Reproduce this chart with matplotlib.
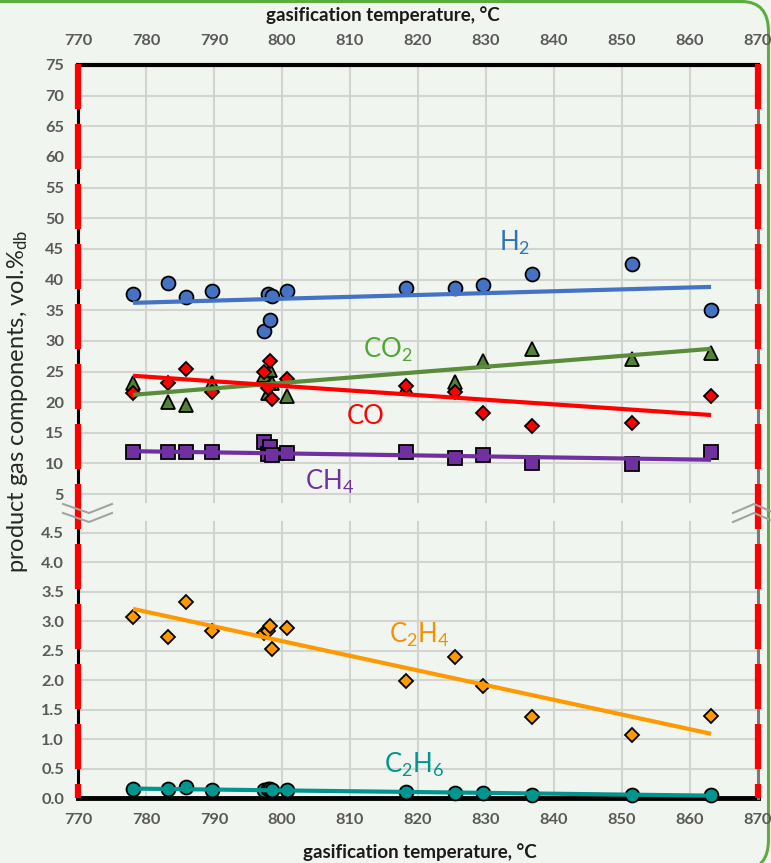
import numpy as np
import matplotlib
matplotlib.use("Agg")
import matplotlib.pyplot as plt
from matplotlib.lines import Line2D
from matplotlib.patches import FancyBboxPatch

plt.rcParams['font.family'] = ['Lato', 'DejaVu Sans']
plt.rcParams['mathtext.default'] = 'regular'

# gasification temperature of each run, degC
temp = [778.1, 783.2, 785.9, 789.7, 797.3, 798.0, 798.3, 798.6, 800.8,
        818.3, 825.5, 829.5, 836.8, 851.4, 863.1]

# product gas components, vol.% db
h2 = [37.6, 39.4, 37.2, 38.1, 31.6, 37.6, 33.4, 37.3, 38.1, 38.6, 38.6, 39.1, 40.9, 42.5, 35.0]
co2 = [23.1, 20.0, 19.5, 23.1, 24.4, 21.5, 25.2, 23.1, 21.0, 22.3, 23.3, 26.7, 28.7, 27.0, 28.0]
co = [21.5, 23.1, 25.4, 21.7, 24.9, 22.3, 26.7, 20.5, 23.7, 22.6, 21.6, 18.2, 16.1, 16.6, 21.0]
ch4 = [11.9, 11.9, 11.9, 11.9, 13.5, 11.6, 12.7, 11.4, 11.7, 11.9, 10.9, 11.4, 10.1, 9.9, 11.9]
c2h4 = [3.07, 2.73, 3.33, 2.84, 2.80, 2.84, 2.92, 2.53, 2.89, 1.99, 2.39, 1.90, 1.38, 1.07, 1.39]
c2h6 = [0.15, 0.15, 0.19, 0.14, 0.14, 0.15, 0.15, 0.13, 0.13, 0.10, 0.09, 0.09, 0.05, 0.05, 0.055]

# linear trend lines (start / end value at first and last temperature)
trend_t = [778.1, 863.1]
h2_trend = [36.2, 38.8]
co2_trend = [21.2, 28.7]
co_trend = [24.3, 17.9]
ch4_trend = [12.0, 10.6]
c2h4_trend = [3.21, 1.09]
c2h6_trend = [0.16, 0.04]

x_ticks = list(range(770, 871, 10))
y_ticks_top = list(range(5, 76, 5))
y_ticks_bot = [0.0, 0.5, 1.0, 1.5, 2.0, 2.5, 3.0, 3.5, 4.0, 4.5]

W, H = 771, 863
bg = '#f1f5ef'
tick_col = '#595959'

fig = plt.figure(figsize=(W / 100, H / 100), dpi=100, facecolor=bg)

left_px, right_px = 78, 758
top_px, bot_px = 65, 798
top_scale = 6.13     # px per unit, upper panel
bot_scale = 58.9     # px per unit, lower panel
top_ylim = (3.5, 75)
bot_ylim = (0, 4.7)
ax1_bottom = top_px + (top_ylim[1] - top_ylim[0]) * top_scale
ax2_top = bot_px - (bot_ylim[1] - bot_ylim[0]) * bot_scale


def fig_rect(x0, y0, x1, y1):
    return [x0 / W, 1 - y1 / H, (x1 - x0) / W, (y1 - y0) / H]


ax1 = fig.add_axes(fig_rect(left_px, top_px, right_px, ax1_bottom))
ax2 = fig.add_axes(fig_rect(left_px, ax2_top, right_px, bot_px))

for ax in (ax1, ax2):
    ax.set_facecolor(bg)
    ax.set_xlim(770, 870)
    ax.set_xticks(x_ticks)
    ax.grid(True, color='#d2d4d0', lw=1.5)
    ax.set_axisbelow(True)
    ax.tick_params(length=0, labelsize=11.8, labelcolor=tick_col)
    for s in ax.spines.values():
        s.set_visible(False)

ax1.set_ylim(*top_ylim)
ax1.set_yticks(y_ticks_top)
ax1.xaxis.tick_top()
ax1.tick_params(axis='x', pad=12)
ax1.tick_params(axis='y', pad=10)
ax1.spines['top'].set_visible(True)
ax1.spines['top'].set_linewidth(3)
ax1.spines['top'].set_color('black')

ax2.set_ylim(*bot_ylim)
ax2.set_yticks(y_ticks_bot)
ax2.set_yticklabels(['%.1f' % v for v in y_ticks_bot])
ax2.tick_params(axis='x', pad=11)
ax2.tick_params(axis='y', pad=10)
ax2.spines['bottom'].set_visible(True)
ax2.spines['bottom'].set_linewidth(3.5)
ax2.spines['bottom'].set_color('black')
for lab in ax2.get_xticklabels() + ax2.get_yticklabels() + ax1.get_xticklabels() + ax1.get_yticklabels():
    lab.set_fontweight('bold')

# x axis titles (top one sits left of centre in the original)
fig.text(383 / W, 1 - 15 / H, 'gasification temperature, °C', fontsize=13.5,
         fontweight='bold', ha='center', va='center', color='#1a1a1a')
fig.text(420 / W, 1 - 852 / H, 'gasification temperature, °C', fontsize=13.5,
         fontweight='bold', ha='center', va='center', color='#1a1a1a')

# series: values, trend, marker, fill, line colour, label colour, label pos
upper = [
    (h2, h2_trend, 'o', '#4472c4', '#4472c4', '#2e75b6', r'$H_2$', (834.2, 46.0)),
    (co2, co2_trend, '^', '#548235', '#5b8c3a', '#4ea72e', r'$CO_2$', (815.5, 28.5)),
    (co, co_trend, 'D', '#ff0000', '#ff0000', '#ff0000', 'CO', (812.3, 17.7)),
    (ch4, ch4_trend, 's', '#7030a0', '#7030a0', '#7030a0', r'$CH_4$', (807.0, 7.0)),
]
lower = [
    (c2h4, c2h4_trend, 'D', '#ff9900', '#ff9900', '#f39200', r'$C_2H_4$', (820.2, 2.77)),
    (c2h6, c2h6_trend, 'o', '#00968f', '#00968f', '#00968f', r'$C_2H_6$', (819.5, 0.56)),
]
msize = {'o': 10, '^': 10.5, 'D': 7.5, 's': 9.5}

for ax, group in ((ax1, upper), (ax2, lower)):
    for vals, tr, mk, fill, lc, tc, name, pos in group:
        ax.plot(temp, vals, ls='none', marker=mk, ms=msize[mk], mfc=fill,
                mec='black', mew=1.3, zorder=3, clip_on=False)
        ax.plot(trend_t, tr, color=lc, lw=3, zorder=4, solid_capstyle='butt')
        ax.text(pos[0], pos[1], name, color=tc, fontsize=18.5, ha='center', va='center')

# red dashed side borders running across both panels
for x, under in ((left_px, 'black'), (right_px, '#7a7a7a')):
    fig.add_artist(Line2D([x / W, x / W], [1 - top_px / H, 1 - bot_px / H],
                          transform=fig.transFigure, color=under, lw=2.2, zorder=5))
    fig.add_artist(Line2D([x / W, x / W], [1 - (top_px - 1) / H, 1 - bot_px / H],
                          transform=fig.transFigure, color='#ff0000', lw=4.5,
                          dashes=(7.2, 2.4), solid_capstyle='butt', zorder=6))

# axis break marks
brk = '#a3a3a3'
for dy in (0, 9):
    fig.add_artist(Line2D(np.array([63, 89, 112]) / W,
                          1 - (np.array([504, 513, 504]) + dy) / H,
                          transform=fig.transFigure, color=brk, lw=1.5, zorder=7))
    fig.add_artist(Line2D(np.array([733, 754, 775]) / W,
                          1 - (np.array([513, 504, 513]) + dy) / H,
                          transform=fig.transFigure, color=brk, lw=1.5, zorder=7))

fig.text(18 / W, 1 - 401 / H, r'product gas components, vol.%$_{db}$',
         rotation=90, ha='center', va='center', fontsize=17, color='#262626')

# green rounded frame
fig.add_artist(FancyBboxPatch((-40 / W, 1 - 870 / H), (808.5) / W, (868.5) / H,
                              boxstyle='round,pad=0,rounding_size=0.035',
                              transform=fig.transFigure, fc='none',
                              ec='#5cae3c', lw=2.2, zorder=0))

fig.savefig('out.png', dpi=100, facecolor=bg)
